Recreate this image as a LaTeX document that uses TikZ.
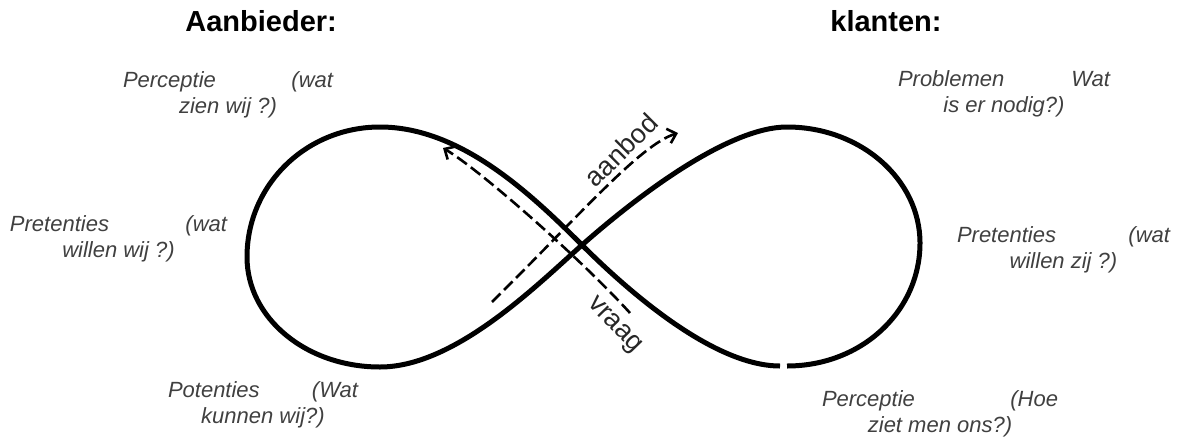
\documentclass[tikz,border=0pt]{standalone}
\usepackage{fontspec}
\setmainfont{Liberation Sans}
\usetikzlibrary{arrows.meta}
\begin{document}
\begin{tikzpicture}[x=0.5pt,y=-0.5pt,
  loopline/.style={line width=2.5pt,black,line cap=butt},
  flow/.style={line width=1.3pt,black,dash pattern=on 6pt off 2.5pt,
    -{Straight Barb[length=4pt,width=7.5pt,line width=1.3pt]}},
  lbl/.style={font=\fontsize{11}{12.75}\selectfont\itshape,text=black!75,
    align=center,anchor=base,inner sep=0pt},
  head/.style={font=\fontsize{14.5}{17}\selectfont\bfseries,anchor=base west,inner sep=0pt},
  flowlbl/.style={font=\fontsize{13.5}{16}\selectfont,text=black!85,inner sep=0pt}]
\useasboundingbox (0,0) rectangle (1182,439);

% headings
\node[head] (aanbieder) at (185,32) {Aanbieder:};
\node[head] (klanten) at (830,32) {klanten:};

% figure eight
\coordinate (C) at (582,245);
\coordinate (T1) at (380,127);
\coordinate (L) at (247,257);
\coordinate (B1) at (380,367);
\coordinate (B2a) at (780,366);
\coordinate (B2b) at (787,366);
\coordinate (R) at (920,243);
\coordinate (T2) at (787,127);
\draw[loopline] (B2b) .. controls (862,366) and (920,311) .. (R)
  .. controls (920,179) and (860,127) .. (T2)
  .. controls (730,127) and (642,192) .. (C)
  .. controls (537,285) and (455,367) .. (B1)
  .. controls (306,367) and (247,318) .. (L)
  .. controls (247,185) and (306,127) .. (T1)
  .. controls (460,127) and (530,193) .. (C)
  .. controls (625,288) and (712,366) .. (B2a);

% flows
\coordinate (aS) at (492,302);
\coordinate (aE) at (678,133);
\coordinate (vS) at (630,313);
\coordinate (vE) at (443,148);
\draw[flow] (aS) .. controls (580,215) and (640,145) .. (aE);
\draw[flow] (vS) .. controls (580,258) and (480,170) .. (vE);
\node[flowlbl,rotate=45] (aanbod) at (621,150) {aanbod};
\node[flowlbl,rotate=-46] (vraag) at (614,326) {vraag};

% labels (positioned at the baseline of their second line)
\node[lbl] (l1) at (228,113) {\makebox[105pt]{Perceptie\hfill(wat}\\zien wij ?)};
\node[lbl] (l2) at (118.5,257) {\makebox[108.5pt]{Pretenties\hfill(wat}\\willen wij ?)};
\node[lbl] (l3) at (263,423) {\makebox[95pt]{Potenties\hfill(Wat}\\kunnen wij?)};
\node[lbl] (r1) at (1004,112) {\makebox[106pt]{Problemen\hfill Wat}\\is er nodig?)};
\node[lbl] (r2) at (1063.5,268) {\makebox[106.5pt]{Pretenties\hfill(wat}\\willen zij ?)};
\node[lbl] (r3) at (940,432) {\makebox[118pt]{Perceptie\hfill(Hoe}\\ziet men ons?)};
\end{tikzpicture}
\end{document}
